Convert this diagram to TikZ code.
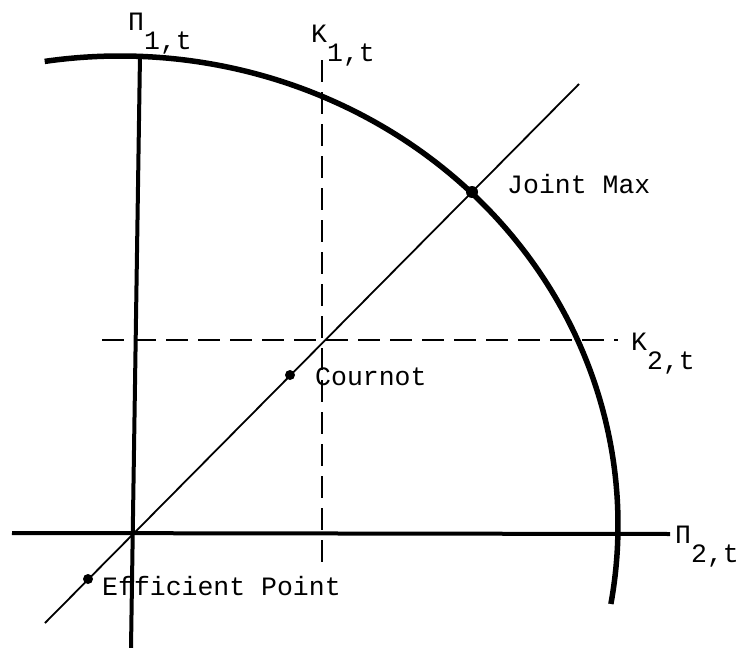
\documentclass[tikz,border=0pt]{standalone}
\usepackage{fontspec}
\setmonofont{Liberation Mono}
\begin{document}
\begin{tikzpicture}[x=1pt,y=1pt,
  lbl/.style={font=\ttfamily\fontsize{26.5}{30}\selectfont, inner sep=0pt},
  axisline/.style={line width=4pt},
  frontier/.style={line width=5.5pt},
  thinline/.style={line width=1.8pt},
  dashline/.style={line width=1.8pt, dash pattern=on 22pt off 10pt},
  dotm/.style={circle, fill=black, inner sep=0pt, minimum size=10pt}]
\useasboundingbox (0,0) rectangle (748,-648);
% axes
\coordinate (p1top) at (140,-55);
\coordinate (p1bot) at (131,-648);
\coordinate (p2left) at (12,-533);
\coordinate (p2right) at (670,-534);
\draw[axisline] (p1top) -- (p1bot);
\draw[axisline] (p2left) -- (p2right);
% dashed lines
\coordinate (k1top) at (322,-60);
\coordinate (k1bot) at (322,-572);
\coordinate (k2left) at (102,-340);
\coordinate (k2right) at (618,-340);
\draw[dashline] (k1top) -- (k1bot);
\draw[dashline] (k2left) -- (k2right);
% diagonal
\coordinate (dlo) at (45,-623);
\coordinate (dhi) at (579,-84);
\draw[thinline] (dlo) -- (dhi);
% frontier
\draw[frontier] (44.7,-61.4) arc[start angle=98.7, end angle=-9.7, x radius=498pt, y radius=469pt];
% points
\node[dotm, minimum size=12pt] (jm) at (472,-192) {};
\node[dotm] (cn) at (290,-375) {};
\node[dotm] (ef) at (88,-579) {};
% labels
\node[lbl, anchor=base west] (jmlab) at (507,-193) {Joint Max};
\node[lbl, anchor=base west] (cnlab) at (315,-385) {Cournot};
\node[lbl, anchor=base west] (eflab) at (102,-595) {Efficient Point};
\node[lbl, anchor=base west] (p1lab) at (128,-30) {Π\raisebox{-19pt}{1,t}};
\node[lbl, anchor=base west] (k1lab) at (311,-42) {K\raisebox{-19pt}{1,t}};
\node[lbl, anchor=base west] (k2lab) at (631,-350) {K\raisebox{-19pt}{2,t}};
\node[lbl, anchor=base west] (p2lab) at (675,-543) {Π\raisebox{-19pt}{2,t}};
\end{tikzpicture}
\end{document}
